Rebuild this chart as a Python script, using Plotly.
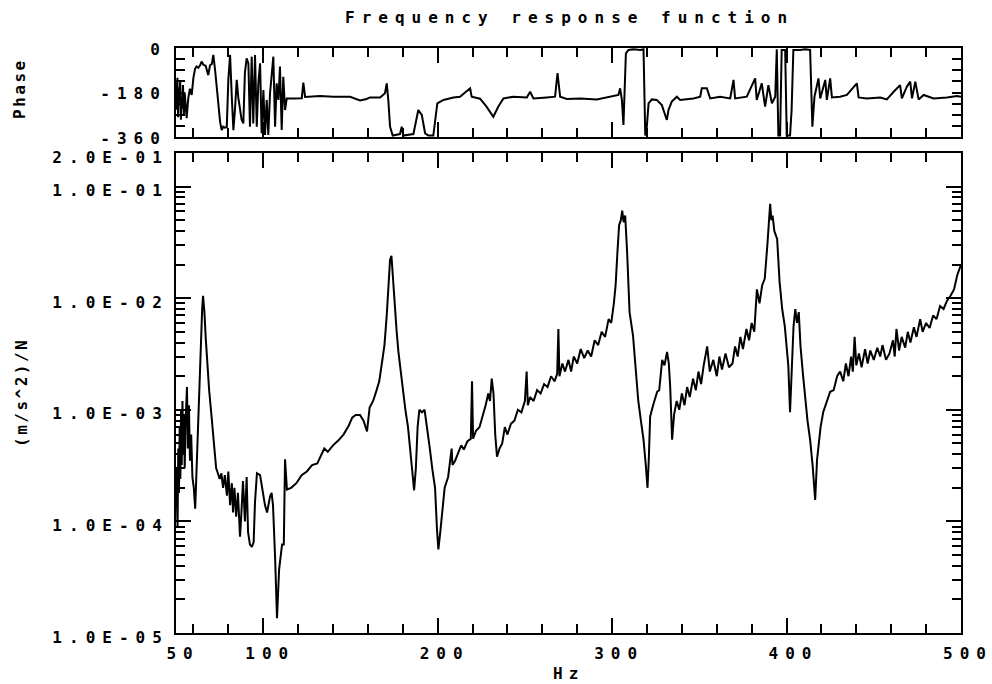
import math
import plotly.graph_objects as go

# ---------------- data ----------------
freq_mag = [
    50.0, 50.4, 50.9, 51.3, 51.7, 52.1, 52.5, 52.9, 53.3, 53.7, 54.1, 54.6, 55.0, 55.5, 56.3, 56.8,
    57.4, 58.0, 58.7, 59.4, 60.2, 61.0, 61.8, 62.5, 63.3, 64.2, 65.0, 65.5, 66.3, 67.0, 68.0, 69.0,
    70.3, 71.2, 72.0, 73.0, 74.0, 75.0, 76.0, 77.0, 78.0, 79.2, 80.0, 81.0, 82.0, 82.7, 83.5, 84.5,
    85.5, 86.7, 87.5, 88.4, 89.5, 90.5, 91.3, 92.4, 93.5, 94.5, 95.3, 96.4, 98.2, 99.9, 101.0, 102.2,
    103.9, 104.8, 105.6, 106.8, 107.9, 109.1, 110.8, 111.8, 112.5, 113.6, 116.0, 119.0, 122.0, 125.0,
    128.0, 131.0, 133.0, 135.0, 137.0, 140.0, 143.0, 146.0, 149.0, 151.0, 153.0, 155.5, 157.5, 159.5,
    161.0, 163.0, 165.0, 166.5, 168.0, 169.5, 170.8, 171.8, 172.7, 173.5, 174.3, 175.6, 176.5, 177.5,
    179.0, 180.3, 181.5, 183.0, 184.5, 185.5, 186.5, 187.5, 188.5, 189.5, 191.0, 192.5, 194.0, 195.5,
    197.0, 198.5, 199.6, 200.4, 201.5, 202.5, 204.0, 206.0, 208.0, 208.5, 210.0, 212.0, 213.5, 215.0,
    217.0, 219.0, 219.7, 220.3, 222.0, 224.0, 226.0, 227.5, 229.0, 230.0, 231.0, 232.0, 233.0, 234.0,
    235.5, 237.0, 238.5, 240.0, 242.0, 244.0, 246.0, 248.0, 250.0, 251.0, 251.7, 253.0, 255.0, 257.0,
    259.0, 261.0, 263.0, 265.0, 267.0, 268.5, 269.2, 269.8, 271.5, 273.0, 275.0, 276.5, 278.0, 280.0,
    282.0, 284.0, 286.0, 288.0, 290.0, 292.0, 294.0, 296.0, 298.0, 299.5, 301.0, 302.0, 303.0, 304.0,
    305.0, 305.8, 306.6, 307.5, 308.6, 310.0, 312.0, 313.5, 315.0, 316.5, 318.0, 319.3, 320.3, 321.0,
    321.8, 323.5, 325.8, 327.0, 328.7, 330.0, 331.5, 332.5, 333.3, 334.4, 335.5, 337.0, 338.5, 340.0,
    341.5, 343.0, 344.5, 346.4, 348.0, 349.5, 351.0, 352.5, 354.5, 356.0, 358.0, 360.0, 361.5, 363.0,
    365.0, 367.0, 369.0, 370.5, 372.0, 373.5, 375.0, 377.0, 378.5, 380.0, 381.5, 383.0, 384.5, 386.0,
    387.5, 389.0, 390.0, 390.6, 391.3, 392.0, 393.0, 394.6, 396.0, 397.5, 399.0, 400.2, 401.0, 402.0,
    402.8, 404.0, 405.0, 406.0, 407.0, 408.0, 409.5, 410.7, 412.0, 413.5, 415.0, 416.4, 417.5, 418.5,
    419.5, 421.0, 423.0, 425.0, 427.0, 429.0, 430.7, 432.5, 434.0, 435.5, 437.0, 438.0, 439.0, 440.0,
    441.5, 443.0, 445.0, 446.5, 448.0, 450.0, 452.0, 453.7, 455.0, 457.0, 459.0, 461.0, 462.0, 463.0,
    464.5, 466.0, 468.0, 469.5, 471.0, 473.0, 474.5, 476.6, 478.0, 480.0, 482.0, 484.0, 486.0, 488.0,
    490.0, 492.0, 494.0, 496.0, 497.8, 499.0, 500.0,
]
magnitude = [
    3.0e-4, 1.3e-4, 9.0e-5, 4.5e-4, 1.8e-4, 7.0e-4, 2.4e-4, 1.0e-3, 3.2e-4, 1.2e-3, 4.0e-4, 9.0e-4, 3.0e-4, 8.0e-4, 1.6e-3, 4.5e-4,
    1.1e-3, 3.5e-4, 6.0e-4, 2.5e-4, 2.0e-4, 1.3e-4, 3.0e-4, 8.0e-4, 2.0e-3, 4.5e-3, 8.0e-3, 1.05e-2, 7.5e-3, 4.5e-3, 2.5e-3, 1.5e-3,
    9.0e-4, 6.5e-4, 4.5e-4, 3.0e-4, 2.7e-4, 2.4e-4, 2.7e-4, 2.0e-4, 2.6e-4, 1.7e-4, 2.8e-4, 1.4e-4, 2.2e-4, 1.2e-4, 2.0e-4, 1.1e-4,
    1.8e-4, 7.3e-5, 1.2e-4, 2.3e-4, 1.0e-4, 2.5e-4, 8.0e-5, 6.2e-5, 5.9e-5, 6.5e-5, 1.5e-4, 2.7e-4, 2.6e-4, 1.67e-4, 1.4e-4, 1.2e-4,
    1.67e-4, 1.8e-4, 1.4e-4, 4.8e-5, 1.36e-5, 3.7e-5, 6.2e-5, 6.2e-5, 3.6e-4, 1.93e-4, 2.0e-4, 2.2e-4, 2.6e-4, 2.8e-4,
    3.2e-4, 3.3e-4, 3.8e-4, 4.5e-4, 4.2e-4, 4.8e-4, 5.3e-4, 6.0e-4, 7.2e-4, 8.5e-4, 9.0e-4, 9.0e-4, 8.0e-4, 6.4e-4,
    1.05e-3, 1.2e-3, 1.5e-3, 1.8e-3, 2.6e-3, 3.8e-3, 7.0e-3, 1.3e-2, 2.2e-2, 2.4e-2, 1.5e-2, 8.0e-3, 5.0e-3, 3.3e-3,
    2.0e-3, 1.4e-3, 1.0e-3, 7.0e-4, 4.0e-4, 2.6e-4, 1.9e-4, 3.0e-4, 7.0e-4, 1.0e-3, 9.5e-4, 1.0e-3, 7.0e-4, 4.5e-4,
    2.9e-4, 2.0e-4, 8.5e-5, 5.6e-5, 8.0e-5, 1.1e-4, 2.0e-4, 2.5e-4, 4.5e-4, 3.2e-4, 3.5e-4, 4.2e-4, 4.8e-4, 4.4e-4,
    5.2e-4, 5.5e-4, 1.8e-3, 5.5e-4, 6.5e-4, 7.0e-4, 9.0e-4, 1.1e-3, 1.4e-3, 1.2e-3, 1.9e-3, 1.4e-3, 6.0e-4, 3.8e-4,
    4.5e-4, 5.0e-4, 7.0e-4, 6.0e-4, 7.5e-4, 8.0e-4, 1.0e-3, 9.5e-4, 1.2e-3, 2.2e-3, 1.1e-3, 1.3e-3, 1.2e-3, 1.5e-3,
    1.4e-3, 1.7e-3, 1.6e-3, 2.0e-3, 1.8e-3, 2.1e-3, 5.3e-3, 2.0e-3, 2.6e-3, 2.2e-3, 2.8e-3, 2.2e-3, 3.0e-3, 2.6e-3,
    3.5e-3, 2.9e-3, 3.4e-3, 3.0e-3, 4.2e-3, 3.8e-3, 5.0e-3, 4.5e-3, 6.5e-3, 6.0e-3, 9.0e-3, 1.3e-2, 2.5e-2, 4.5e-2,
    5.0e-2, 6.1e-2, 4.8e-2, 5.5e-2, 2.6e-2, 7.5e-3, 4.6e-3, 2.5e-3, 1.2e-3, 8.0e-4, 5.4e-4, 3.2e-4, 2.0e-4, 3.5e-4,
    8.7e-4, 1.1e-3, 1.45e-3, 1.5e-3, 2.8e-3, 2.5e-3, 3.3e-3, 2.6e-3, 1.6e-3, 5.4e-4, 9.0e-4, 1.2e-3, 1.0e-3, 1.4e-3,
    1.1e-3, 1.6e-3, 1.3e-3, 1.9e-3, 1.5e-3, 2.2e-3, 1.7e-3, 2.5e-3, 3.7e-3, 2.2e-3, 2.8e-3, 2.0e-3, 3.0e-3, 2.3e-3,
    3.2e-3, 2.4e-3, 2.6e-3, 3.7e-3, 3.0e-3, 4.5e-3, 3.5e-3, 5.3e-3, 4.2e-3, 6.0e-3, 5.0e-3, 1.2e-2, 9.0e-3, 1.3e-2,
    1.5e-2, 3.0e-2, 5.0e-2, 7.0e-2, 5.0e-2, 5.5e-2, 4.0e-2, 3.4e-2, 1.4e-2, 8.0e-3, 5.6e-3, 3.5e-3, 2.5e-3, 9.5e-4,
    2.0e-3, 5.6e-3, 8.0e-3, 6.0e-3, 7.5e-3, 3.7e-3, 2.0e-3, 1.2e-3, 8.0e-4, 5.4e-4, 3.1e-4, 1.56e-4, 3.6e-4, 5.0e-4,
    7.0e-4, 9.5e-4, 1.2e-3, 1.45e-3, 1.5e-3, 2.0e-3, 2.2e-3, 1.8e-3, 2.6e-3, 2.0e-3, 3.0e-3, 2.2e-3, 4.5e-3, 2.5e-3,
    3.2e-3, 2.4e-3, 3.5e-3, 2.6e-3, 3.4e-3, 2.8e-3, 3.6e-3, 3.0e-3, 3.8e-3, 2.8e-3, 3.2e-3, 4.2e-3, 3.0e-3, 5.3e-3,
    3.4e-3, 4.5e-3, 3.6e-3, 5.0e-3, 4.0e-3, 5.5e-3, 4.5e-3, 6.5e-3, 5.0e-3, 6.0e-3, 5.4e-3, 7.0e-3, 6.5e-3, 8.5e-3,
    8.0e-3, 9.5e-3, 1.05e-2, 1.2e-2, 1.6e-2, 1.8e-2, 2.0e-2,
]

freq_phase = [
    50.0, 50.4, 50.8, 51.2, 51.6, 52.0, 52.4, 52.8, 53.2, 53.6, 54.0, 54.5, 55.0, 55.5, 56.1, 56.6,
    57.1, 58.0, 59.0, 60.0, 60.9, 61.8, 62.8, 63.8, 64.7, 65.7, 67.0, 68.5, 69.5, 70.5, 71.4, 72.4,
    73.3, 74.3, 75.3, 76.2, 77.1, 78.0, 79.1, 80.0, 81.0, 82.0, 82.9, 83.8, 84.8, 85.7, 86.7, 87.6,
    88.6, 89.5, 90.5, 91.5, 92.4, 93.4, 94.3, 95.3, 96.3, 97.2, 98.2, 99.1, 100.1, 101.0, 102.0, 102.9,
    103.9, 104.9, 105.8, 106.8, 107.7, 108.7, 109.6, 110.6, 111.5, 112.5, 113.5, 117.3, 122.1, 123.0,
    124.0, 132.6, 140.2, 149.8, 155.5, 159.3, 161.2, 167.0, 169.8, 170.8, 171.7, 172.7, 174.2, 178.4,
    179.4, 180.3, 186.1, 188.9, 190.9, 192.8, 194.7, 197.5, 198.5, 199.8, 203.3, 209.0, 212.8, 218.6,
    219.5, 224.3, 228.0, 231.9, 234.8, 237.7, 243.4, 251.1, 253.0, 254.9, 262.6, 267.3, 268.7, 270.2,
    274.0, 281.7, 291.2, 297.0, 300.8, 303.6, 304.6, 305.6, 306.5, 307.1, 307.9, 309.4, 312.3, 316.1,
    318.0, 319.0, 319.9, 320.9, 322.8, 325.6, 328.5, 330.4, 331.4, 332.3, 334.2, 337.1, 339.0, 346.6,
    350.5, 351.4, 354.3, 356.2, 361.9, 367.7, 369.6, 370.5, 377.2, 382.0, 382.9, 385.8, 387.7, 389.6,
    391.6, 393.5, 394.4, 395.3, 396.3, 397.2, 399.2, 400.1, 402.0, 402.9, 403.9, 407.8, 410.6, 413.5,
    414.8, 416.0, 418.3, 419.3, 422.2, 423.1, 425.0, 426.0, 430.7, 434.6, 440.3, 441.3, 446.0, 453.7,
    457.5, 461.4, 465.1, 466.1, 469.0, 470.9, 471.9, 473.8, 475.7, 478.6, 484.3, 491.9, 497.7, 500.0,
]
phase = [
    -140, -250, -120, -280, -160, -215, -130, -290, -200, -245, -150, -270, -180, -230, -284, -240,
    -200, -165, -190, -120, -85, -75, -80, -70, -55, -68, -72, -110, -70, -65, -28, -89,
    -160, -251, -300, -332, -318, -322, -320, -129, -28, -200, -332, -250, -129, -200, -251, -290,
    -305, -100, -42, -62, -318, -35, -305, -28, -318, -143, -62, -345, -170, -352, -210, -352,
    -183, -102, -35, -318, -143, -210, -75, -332, -116, -251, -204, -204, -203, -140,
    -198, -194, -197, -197, -212, -206, -200, -200, -183, -143, -210, -318, -354, -348,
    -318, -354, -348, -251, -271, -345, -354, -354, -291, -224, -210, -200, -197, -163,
    -197, -205, -237, -278, -237, -204, -197, -200, -177, -204, -200, -197, -102, -197,
    -206, -204, -208, -201, -194, -190, -163, -210, -311, -143, -22, -8, -5, -8,
    -5, -354, -318, -224, -208, -210, -231, -271, -291, -251, -217, -197, -210, -204,
    -197, -163, -163, -204, -197, -204, -129, -204, -197, -123, -210, -143, -237, -150,
    -224, -197, -5, -354, -354, -8, -8, -354, -354, -251, -8, -8, -5, -8,
    -318, -197, -123, -204, -129, -210, -123, -200, -197, -190, -143, -200, -204, -200,
    -208, -177, -150, -204, -156, -136, -204, -136, -208, -190, -204, -200, -194, -197,
]

title_text = "Frequency response function"
x_title = "Hz"
y_title = "(m/s^2)/N"
phase_title = "Phase"
x_tickvals = [50, 100, 200, 300, 400, 500]
x_ticktext = ["50", "100", "200", "300", "400", "500"]
mag_tickvals = [0.2, 0.1, 0.01, 0.001, 0.0001, 0.00001]
mag_ticktext = ["2.0E-01", "1.0E-01", "1.0E-02", "1.0E-03", "1.0E-04", "1.0E-05"]
phase_tickvals = [0, -180, -360]
phase_ticktext = ["0", "-180", "-360"]

# ---------------- styling ----------------
FONT = "DejaVu Sans Mono"
LS = "letter-spacing:7px"
LS_T = "letter-spacing:2.5px"


def spaced(t, style=LS):
    return '<span style="%s">%s</span>' % (style, t)


minor_log = [m * 10.0 ** e for e in range(-5, 0) for m in range(2, 10) if m * 10.0 ** e < 0.2]

W, H = 992, 684
L, R, T, B = 176, 31, 48, 51
plot_h = H - T - B
plot_w = W - L - R

fig = go.Figure()
fig.add_trace(go.Scatter(x=freq_mag, y=magnitude, mode="lines",
                         line=dict(color="black", width=2), xaxis="x", yaxis="y",
                         showlegend=False, hoverinfo="skip"))
fig.add_trace(go.Scatter(x=freq_phase, y=phase, mode="lines",
                         line=dict(color="black", width=2), xaxis="x2", yaxis="y2",
                         showlegend=False, hoverinfo="skip"))

tickfont = dict(family=FONT, size=16, color="black", weight="bold")
common_x = dict(range=[50, 500], showline=True, linewidth=2, linecolor="black",
                mirror="allticks", ticks="inside", ticklen=15, tickwidth=2, tickcolor="black",
                tickmode="array", tickvals=x_tickvals, showgrid=False, zeroline=False,
                automargin=False,
                minor=dict(tickmode="linear", tick0=0, dtick=20, ticks="inside", ticklen=9,
                           tickwidth=2, tickcolor="black", showgrid=False))

main_top = (H - B - 153) / plot_h
phase_bot = (H - B - 137) / plot_h

fig.update_layout(
    template="none",
    width=W, height=H, autosize=False,
    paper_bgcolor="white", plot_bgcolor="white",
    margin=dict(l=L, r=R, t=T, b=B, pad=0),
    font=dict(family=FONT, size=16, color="black"),
    xaxis=dict(common_x, anchor="y", domain=[0, 1],
               ticktext=[spaced(t) for t in x_ticktext], tickfont=tickfont,
               ticklabelshift=7, ticklabelstandoff=5, ticklabeloverflow="allow"),
    xaxis2=dict(common_x, anchor="y2", domain=[0, 1], matches="x", showticklabels=False),
    yaxis=dict(type="log", range=[-5, math.log10(0.2)], domain=[0, main_top],
               showline=True, linewidth=2, linecolor="black", mirror="allticks",
               ticks="inside", ticklen=15, tickwidth=2, tickcolor="black",
               tickmode="array", tickvals=mag_tickvals, automargin=False,
               ticktext=[spaced(t) for t in mag_ticktext], tickfont=tickfont,
               ticklabelshift=4, ticklabelstandoff=2, ticklabeloverflow="allow",
               showgrid=False, zeroline=False,
               minor=dict(tickmode="array", tickvals=minor_log, ticks="inside", ticklen=9,
                          tickwidth=2, tickcolor="black", showgrid=False)),
    yaxis2=dict(range=[-360, 0], domain=[phase_bot, 1], anchor="x2",
                showline=True, linewidth=2, linecolor="black", mirror="allticks",
                ticks="inside", ticklen=9, tickwidth=2, tickcolor="black",
                tickmode="array", tickvals=phase_tickvals, automargin=False,
                ticktext=[spaced(t) for t in phase_ticktext], tickfont=tickfont,
                ticklabelshift=1, ticklabelstandoff=4, ticklabeloverflow="allow",
                showgrid=False, zeroline=False,
                minor=dict(tickmode="linear", tick0=0, dtick=45, ticks="inside", ticklen=9,
                           tickwidth=2, tickcolor="black", showgrid=False)),
)


def px2paper(px, py):
    return (px - L) / plot_w, (H - B - py) / plot_h


ann = []
x, y = px2paper(569, 18)
ann.append(dict(text=spaced(title_text), x=x, y=y))
x, y = px2paper(568, 673)
ann.append(dict(text=spaced(x_title, "letter-spacing:6px"), x=x, y=y))
x, y = px2paper(20, 89)
ann.append(dict(text=spaced(phase_title, LS_T), x=x, y=y, textangle=-90))
x, y = px2paper(21, 393)
ann.append(dict(text=spaced(y_title, LS_T), x=x, y=y, textangle=-90))
for a in ann:
    a.update(xref="paper", yref="paper", showarrow=False, xanchor="center", yanchor="middle",
             font=dict(family=FONT, size=16, color="black", weight="bold"))
fig.update_layout(annotations=ann)

fig.write_html("out.html", config={"displayModeBar": False},
               post_script="document.body.style.margin='0px';document.body.style.overflow='hidden';")
